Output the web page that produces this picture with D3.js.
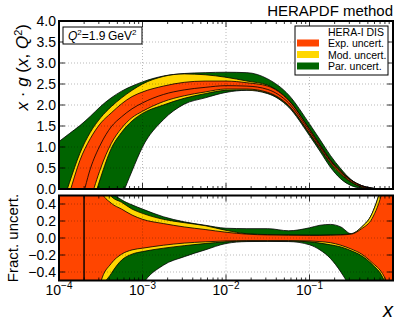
<!DOCTYPE html>
<html>
<head>
<meta charset="utf-8">
<script src="https://cdn.jsdelivr.net/npm/d3@7"></script>
<style>
body { margin: 0; background: #fff; }
text { font-family: "Liberation Sans", Arial, sans-serif; fill: #000; }
</style>
</head>
<body>
<div id="graphic"></div>
<script>
// DATA, x given as log10(x)
var logX = [-4, -3.875, -3.75, -3.625, -3.5, -3.375, -3.25, -3.125, -3, -2.75, -2.5, -2.25, -2, -1.75, -1.5, -1.25, -1, -0.875, -0.75, -0.625, -0.5, -0.375, -0.25, -0.125, 0];

// top panel: x*g(x,Q2)
var central = [-2.2, -1.3, -0.45, 0.48, 1.07, 1.48, 1.72, 1.91, 2.05, 2.25, 2.36, 2.42, 2.46, 2.45, 2.37, 2.05, 1.38, 1.02, 0.67, 0.4, 0.2, 0.07, 0.015, 0, 0];
var expHi = [-0.9, -0.1, 0.68, 1.2, 1.57, 1.81, 2.03, 2.2, 2.31, 2.45, 2.54, 2.57, 2.57, 2.53, 2.45, 2.11, 1.42, 1.05, 0.69, 0.42, 0.21, 0.08, 0.02, 0, 0];
var expLo = [-3.3, -2.4, -1.4, -0.3, 0.5, 1.08, 1.45, 1.7, 1.85, 2.08, 2.22, 2.31, 2.38, 2.38, 2.3, 1.99, 1.33, 0.98, 0.63, 0.37, 0.17, 0.05, 0.01, 0, 0];
var modHi = [-0.6, 0.15, 0.85, 1.35, 1.7, 1.96, 2.17, 2.35, 2.5, 2.68, 2.74, 2.72, 2.66, 2.57, 2.47, 2.12, 1.43, 1.06, 0.7, 0.42, 0.21, 0.08, 0.02, 0, 0];
var modLo = [-3.5, -2.6, -1.6, -0.55, 0.28, 0.96, 1.35, 1.62, 1.8, 2.0, 2.16, 2.27, 2.35, 2.36, 2.29, 1.98, 1.32, 0.96, 0.61, 0.35, 0.16, 0.05, 0.01, 0, 0];
var parHi = [1.13, 1.32, 1.51, 1.73, 1.97, 2.17, 2.33, 2.45, 2.55, 2.69, 2.75, 2.77, 2.78, 2.77, 2.62, 2.24, 1.55, 1.18, 0.8, 0.48, 0.22, 0.08, 0.02, 0, 0];
var parLo = [-4, -3.5, -3, -2.3, -1.6, -1.0, -0.2, 0.43, 1.0, 1.65, 2.02, 2.17, 2.3, 2.35, 2.27, 1.95, 1.27, 0.9, 0.52, 0.24, 0.08, 0.02, 0, 0, 0];

// bottom panel: fractional uncertainties
var fracExpHi = [3, 3, 3, 3, 0.56, 0.41, 0.34, 0.27, 0.22, 0.17, 0.13, 0.1, 0.068, 0.045, 0.036, 0.032, 0.03, 0.03, 0.032, 0.036, 0.045, 0.11, 0.23, 0.56, 1.2];
var fracExpLo = [-3, -3, -3, -3, -0.52, -0.3, -0.19, -0.14, -0.12, -0.085, -0.06, -0.045, -0.035, -0.03, -0.03, -0.03, -0.035, -0.042, -0.055, -0.085, -0.13, -0.19, -0.29, -0.42, -0.7];
var fracModHi = [3, 3, 3, 3, 0.8, 0.49, 0.42, 0.34, 0.29, 0.22, 0.18, 0.145, 0.09, 0.05, 0.04, 0.036, 0.034, 0.034, 0.036, 0.04, 0.05, 0.13, 0.29, 0.68, 1.4];
var fracModLo = [-3, -3, -3, -3, -0.65, -0.42, -0.26, -0.19, -0.16, -0.12, -0.09, -0.065, -0.045, -0.036, -0.035, -0.036, -0.045, -0.06, -0.08, -0.105, -0.15, -0.21, -0.31, -0.46, -0.8];
var fracParHi = [3, 3, 3, 3, 1.2, 0.56, 0.45, 0.39, 0.34, 0.25, 0.19, 0.15, 0.115, 0.11, 0.11, 0.085, 0.12, 0.15, 0.16, 0.13, 0.05, 0.13, 0.29, 0.68, 1.4];
var fracParLo = [-3, -3, -3, -3, -3, -1.6, -1.13, -0.8, -0.55, -0.32, -0.22, -0.14, -0.065, -0.042, -0.04, -0.042, -0.08, -0.14, -0.24, -0.4, -0.62, -1, -3, -3, -3];

var zeroCross = [-3.7]; // where the central value changes sign

var topTicks = [0, 0.5, 1, 1.5, 2, 2.5, 3, 3.5, 4];
var botTicks = [-0.4, -0.2, 0, 0.2, 0.4];
var xDecades = [-4, -3, -2, -1];

var legendLabels = ["Exp. uncert.", "Mod. uncert.", "Par. uncert."];
var colors = {exp: "orangered", mod: "gold", par: "darkgreen"};

var W = 399, H = 328;
var svg = d3.select("#graphic").append("svg")
    .attr("width", W)
    .attr("height", H);

var xScale = d3.scaleLog().domain([1e-4, 1]).range([59, 393]);
var yTop = d3.scaleLinear().domain([0, 4]).range([189, 21]);
var yBot = d3.scaleLinear().domain([-0.5, 0.5]).range([280.5, 195.5]);

var pts = logX.map(function (lx, i) { return {x: Math.pow(10, lx), i: i}; });

function fmt(v) {
    return d3.format(".1f")(v).replace("-", "\u2212");
}

function panel(name, y, yticks) {
    var x0 = xScale.range()[0], x1 = xScale.range()[1];
    var yr = y.range();
    var g = svg.append("g").attr("class", name);
    g.append("clipPath").attr("id", "clip-" + name)
        .append("rect")
        .attr("x", x0).attr("y", yr[1])
        .attr("width", x1 - x0).attr("height", yr[0] - yr[1]);
    var inner = g.append("g").attr("clip-path", "url(#clip-" + name + ")");
    return {g: g, inner: inner, y: y, yticks: yticks};
}

function band(p, lo, hi, col) {
    var area = d3.area()
        .curve(d3.curveMonotoneX)
        .x(function (d) { return xScale(d.x); })
        .y0(function (d) { return p.y(lo[d.i]); })
        .y1(function (d) { return p.y(hi[d.i]); });
    p.inner.append("path")
        .datum(pts)
        .attr("d", area)
        .attr("fill", col)
        .attr("stroke", "#000")
        .attr("stroke-width", 0.8);
}

// dotted grid, drawn over the bands (semi-transparent like the original)
function grid(p) {
    var yr = p.y.range();
    p.inner.selectAll(".vg").data(xDecades.slice(1)).enter().append("line")
        .attr("x1", function (d) { return xScale(Math.pow(10, d)); })
        .attr("x2", function (d) { return xScale(Math.pow(10, d)); })
        .attr("y1", yr[0]).attr("y2", yr[1])
        .attr("stroke", "#000").attr("stroke-opacity", 0.35).attr("stroke-width", 0.8)
        .attr("stroke-dasharray", "1,2");
    p.inner.selectAll(".hg").data(p.yticks).enter().append("line")
        .attr("x1", xScale.range()[0]).attr("x2", xScale.range()[1])
        .attr("y1", function (d) { return p.y(d); })
        .attr("y2", function (d) { return p.y(d); })
        .attr("stroke", "#000").attr("stroke-opacity", 0.35).attr("stroke-width", 0.8)
        .attr("stroke-dasharray", "1,2");
}

function frame(p) {
    var x0 = xScale.range()[0], x1 = xScale.range()[1];
    var yr = p.y.range();
    // minor + major x ticks, inside, bottom and top
    var ticks = [];
    xDecades.forEach(function (d) {
        for (var k = 1; k < 10; k++) ticks.push({v: k * Math.pow(10, d), major: k === 1});
    });
    ticks.forEach(function (t) {
        var len = t.major ? 6 : 3;
        var xx = xScale(t.v);
        p.g.append("line").attr("x1", xx).attr("x2", xx)
            .attr("y1", yr[0]).attr("y2", yr[0] - len)
            .attr("stroke", "#000").attr("stroke-width", 0.8);
        p.g.append("line").attr("x1", xx).attr("x2", xx)
            .attr("y1", yr[1]).attr("y2", yr[1] + len)
            .attr("stroke", "#000").attr("stroke-width", 0.8);
    });
    p.yticks.forEach(function (v) {
        p.g.append("line").attr("x1", x0).attr("x2", x0 + 6)
            .attr("y1", p.y(v)).attr("y2", p.y(v))
            .attr("stroke", "#000").attr("stroke-width", 0.8);
        p.g.append("line").attr("x1", x1).attr("x2", x1 - 6)
            .attr("y1", p.y(v)).attr("y2", p.y(v))
            .attr("stroke", "#000").attr("stroke-width", 0.8);
        p.g.append("text")
            .attr("x", 56).attr("y", p.y(v))
            .attr("dy", "0.36em")
            .attr("text-anchor", "end")
            .style("font-size", "14px")
            .text(fmt(v));
    });
    p.g.append("rect")
        .attr("x", x0).attr("y", yr[1])
        .attr("width", x1 - x0).attr("height", yr[0] - yr[1])
        .attr("fill", "none").attr("stroke", "#000").attr("stroke-width", 2);
}

// TOP PANEL
var topP = panel("top", yTop, topTicks);
band(topP, parLo, parHi, colors.par);
band(topP, modLo, modHi, colors.mod);
band(topP, expLo, expHi, colors.exp);
topP.inner.append("path")
    .datum(pts)
    .attr("d", d3.line().curve(d3.curveMonotoneX)
        .x(function (d) { return xScale(d.x); })
        .y(function (d) { return yTop(central[d.i]); }))
    .attr("fill", "none").attr("stroke", "#000").attr("stroke-width", 0.8);
grid(topP);
frame(topP);

// BOTTOM PANEL
var botP = panel("bot", yBot, botTicks);
band(botP, fracParLo, fracParHi, colors.par);
band(botP, fracModLo, fracModHi, colors.mod);
band(botP, fracExpLo, fracExpHi, colors.exp);
grid(botP);
botP.inner.selectAll(".zc").data(zeroCross).enter().append("line")
    .attr("x1", function (d) { return xScale(Math.pow(10, d)); })
    .attr("x2", function (d) { return xScale(Math.pow(10, d)); })
    .attr("y1", yBot.range()[0]).attr("y2", yBot.range()[1])
    .attr("stroke", "#000").attr("stroke-width", 1.4);
frame(botP);

// x tick labels
xDecades.forEach(function (d) {
    var t = svg.append("text")
        .attr("x", xScale(Math.pow(10, d)))
        .attr("y", 295)
        .attr("text-anchor", "middle")
        .style("font-size", "14px");
    t.append("tspan").text("10");
    t.append("tspan").attr("dy", -6).style("font-size", "10px").text("\u2212" + Math.abs(d));
});

// axis titles
svg.append("text")
    .attr("transform", "translate(28,24) rotate(-90)")
    .attr("text-anchor", "end")
    .style("font-size", "17px")
    .html('<tspan font-style="italic">x</tspan> \u00b7 <tspan font-style="italic">g</tspan> (<tspan font-style="italic">x</tspan>, <tspan font-style="italic">Q</tspan><tspan dy="-6" font-size="11px">2</tspan><tspan dy="6">)</tspan>');

svg.append("text")
    .attr("transform", "translate(17.5,238) rotate(-90)")
    .attr("text-anchor", "middle")
    .style("font-size", "15px")
    .text("Fract. uncert.");

svg.append("text")
    .attr("x", 393).attr("y", 317)
    .attr("text-anchor", "end")
    .style("font-size", "20px")
    .style("font-style", "italic")
    .text("x");

svg.append("text")
    .attr("x", 393).attr("y", 16)
    .attr("text-anchor", "end")
    .style("font-size", "15px")
    .text("HERAPDF method");

// Q2 box
svg.append("rect")
    .attr("x", 63).attr("y", 27).attr("width", 79).attr("height", 17)
    .attr("fill", "#fff").attr("stroke", "#000").attr("stroke-width", 1);
svg.append("text")
    .attr("x", 68).attr("y", 40)
    .style("font-size", "12px")
    .html('<tspan font-style="italic">Q</tspan><tspan dy="-5" font-size="8px">2</tspan><tspan dy="5">=1.9\u2009GeV</tspan><tspan dy="-5" font-size="8px">2</tspan>');

// legend
var leg = svg.append("g");
leg.append("rect")
    .attr("x", 295).attr("y", 26).attr("width", 93).attr("height", 49)
    .attr("fill", "#fff").attr("stroke", "#000").attr("stroke-width", 1);
leg.append("text")
    .attr("x", 328).attr("y", 36)
    .style("font-size", "10.5px")
    .text("HERA-I DIS");
var legCols = [colors.exp, colors.mod, colors.par];
legendLabels.forEach(function (lab, i) {
    var yb = 47 + i * 11.5;
    leg.append("rect")
        .attr("x", 297).attr("y", yb - 7.5)
        .attr("width", 22).attr("height", 7)
        .attr("fill", legCols[i]);
    leg.append("text")
        .attr("x", 328).attr("y", yb)
        .style("font-size", "10.5px")
        .text(lab);
});
</script>
</body>
</html>
